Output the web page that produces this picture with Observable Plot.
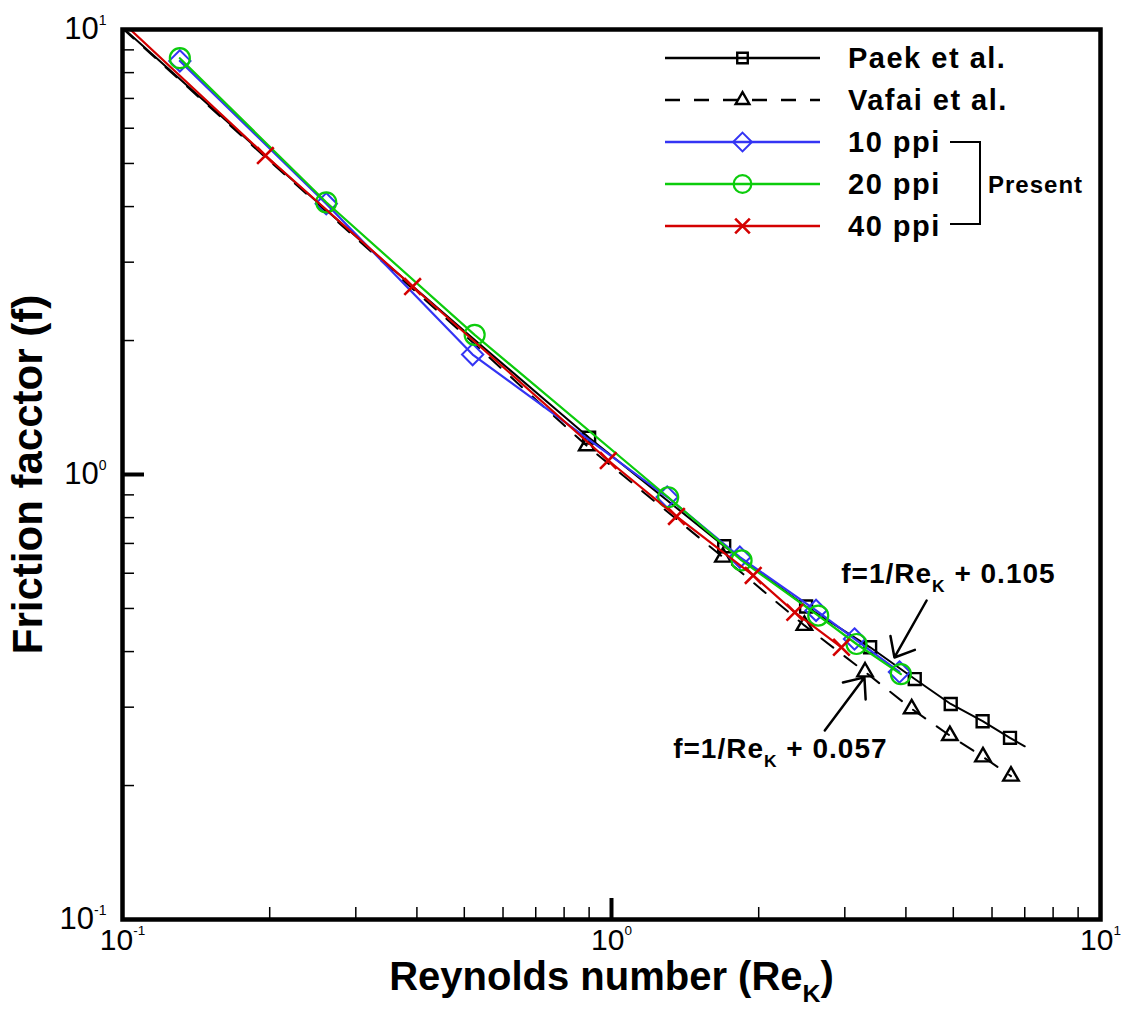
<!DOCTYPE html>
<html>
<head>
<meta charset="utf-8">
<script src="https://cdn.jsdelivr.net/npm/d3@7"></script>
<script src="https://cdn.jsdelivr.net/npm/@observablehq/plot@0.6"></script>
<style>
  html, body { margin: 0; padding: 0; background: #fff; }
  #chart { width: 1128px; height: 1012px; }
</style>
</head>
<body>
<div id="chart"></div>
<script>
// ---- data: Reynolds number Re_K vs friction factor f ----
const seriesNames = ["Paek et al.", "Vafai et al.", "10 ppi", "20 ppi", "40 ppi"];

// Paek et al. curve vertices; 1 = vertex carries a square marker
const paekRe     = [0.1, 0.2, 0.344, 0.5, 0.9, 1.7, 2.5, 3.38, 4.17, 4.94, 5.74, 6.53, 7.0];
const paekF      = [10.1, 5.1, 3.0, 2.1, 1.21, 0.69, 0.505, 0.409, 0.347, 0.305, 0.279, 0.256, 0.245];
const paekMarked = [0, 0, 0, 0, 1, 1, 1, 1, 1, 1, 1, 1, 0];

// Vafai et al. curve vertices; 1 = vertex carries a triangle marker
const vafaiRe     = [0.1, 0.2, 0.5, 0.89, 1.69, 2.48, 3.30, 4.11, 4.92, 5.75, 6.56];
const vafaiF      = [10.06, 5.06, 2.06, 1.16, 0.652, 0.458, 0.36, 0.2975, 0.259, 0.232, 0.21];
const vafaiMarked = [0, 0, 0, 1, 1, 1, 1, 1, 1, 1, 1];

// Present results
const ppi10Re = [0.131, 0.261, 0.520, 1.30, 1.83, 2.62, 3.14, 3.88];
const ppi10F  = [8.5, 4.06, 1.86, 0.89, 0.652, 0.495, 0.427, 0.36];
const ppi20Re = [0.131, 0.261, 0.525, 1.306, 1.845, 2.647, 3.17, 3.906];
const ppi20F  = [8.62, 4.09, 2.06, 0.889, 0.641, 0.482, 0.416, 0.356];
const ppi40Re = [0.098, 0.196, 0.392, 0.985, 1.358, 1.949, 2.371, 2.953];
const ppi40F  = [10.6, 5.21, 2.645, 1.075, 0.805, 0.593, 0.490, 0.409];

// correlation annotations: label anchor and arrow (from -> to)
const noteText   = ["f=1/Re_{K} + 0.105", "f=1/Re_{K} + 0.057"];
const noteRe     = [2.95, 1.337];
const noteF      = [0.596, 0.241];
const arrowFromRe = [4.41, 2.73];
const arrowFromF  = [0.521, 0.266];
const arrowToRe   = [3.79, 3.29];
const arrowToF    = [0.388, 0.350];

// axis ticks
const decadeTicks = [0.1, 1, 10];
const minorTicks = [0.2, 0.3, 0.4, 0.5, 0.6, 0.7, 0.8, 0.9, 2, 3, 4, 5, 6, 7, 8, 9];
const majorInner = [1];
const xTitle = "Reynolds number (Re_{K})";
const yTitle = "Friction facctor (f)";
const groupLabel = "Present";

// ---- styles ----
const styles = {
  "Paek et al.":  {color: "#000000", width: 2,   dash: null,    symbol: "square2",   r: 7.6, sw: 2.4},
  "Vafai et al.": {color: "#000000", width: 2,   dash: "15,14", symbol: "triangle2", r: 7.4, sw: 2.4},
  "10 ppi":       {color: "#3434f4", width: 2.2, dash: null,    symbol: "diamond2",  r: 9.6, sw: 2},
  "20 ppi":       {color: "#0ccc0c", width: 2.2, dash: null,    symbol: "circle",    r: 10,  sw: 2.2},
  "40 ppi":       {color: "#d40000", width: 2.2, dash: null,    symbol: "times",     r: 7.6, sw: 2.6}
};

const rows = (name, re, f, marked) => re.map((x, i) => ({name, re: x, f: f[i], marked: marked ? marked[i] : 1}));
const series = [
  rows(seriesNames[0], paekRe, paekF, paekMarked),
  rows(seriesNames[1], vafaiRe, vafaiF, vafaiMarked),
  rows(seriesNames[2], ppi10Re, ppi10F),
  rows(seriesNames[3], ppi20Re, ppi20F),
  rows(seriesNames[4], ppi40Re, ppi40F)
];
const notes = noteText.map((t, i) => ({t, re: noteRe[i], f: noteF[i],
  re1: arrowFromRe[i], f1: arrowFromF[i], re2: arrowToRe[i], f2: arrowToF[i]}));

const W = 1128, H = 1012;
const mL = 122, mR = 28, mT = 29, mB = 93;
const plotW = W - mL - mR, plotH = H - mT - mB;

const seriesMarks = series.flatMap(data => {
  const s = styles[data[0].name];
  return [
    Plot.line(data, {x: "re", y: "f", stroke: s.color, strokeWidth: s.width,
      strokeDasharray: s.dash ?? undefined, clip: true}),
    Plot.dot(data.filter(d => d.marked), {x: "re", y: "f", symbol: s.symbol, r: s.r,
      stroke: s.color, strokeWidth: s.sw, fill: "none", clip: true})
  ];
});

const fmtPow = d => "10^{" + Math.round(Math.log10(d)) + "}";

const plot = Plot.plot({
  width: W, height: H,
  marginLeft: mL, marginRight: mR, marginTop: mT, marginBottom: mB,
  style: {fontFamily: "'Liberation Sans', Arial, Helvetica, sans-serif", color: "#000", background: "#fff", overflow: "visible"},
  x: {type: "log", domain: [0.1, 10], axis: null},
  y: {type: "log", domain: [0.1, 10], axis: null},
  marks: [
    // inward minor and major ticks on bottom and left edges
    Plot.tickX(minorTicks, {x: d => d, insetTop: plotH - 12, strokeWidth: 1.5, stroke: "#000"}),
    Plot.tickX(majorInner, {x: d => d, insetTop: plotH - 21, strokeWidth: 4, stroke: "#000"}),
    Plot.tickY(minorTicks, {y: d => d, insetRight: plotW - 12, strokeWidth: 1.5, stroke: "#000"}),
    Plot.tickY(majorInner, {y: d => d, insetRight: plotW - 22, strokeWidth: 4, stroke: "#000"}),
    Plot.axisX({ticks: decadeTicks, tickSize: 0, tickPadding: 9, tickFormat: fmtPow, fontSize: 30, label: null}),
    Plot.axisY({ticks: decadeTicks, tickSize: 0, tickPadding: 16, tickFormat: fmtPow, fontSize: 31, label: null}),
    ...seriesMarks,
    Plot.arrow(notes, {x1: "re1", y1: "f1", x2: "re2", y2: "f2", stroke: "#000",
      strokeWidth: 2.5, headLength: 24, headAngle: 80}),
    Plot.text(notes, {x: "re", y: "f", text: "t", textAnchor: "start", fontSize: 28,
      fontWeight: "bold", fill: "#000"}),
    Plot.text([xTitle], {text: d => d, frameAnchor: "bottom", textAnchor: "middle", dy: 70,
      fontSize: 40, fontWeight: "bold", fill: "#000"}),
    Plot.text([yTitle], {text: d => d, frameAnchor: "left", textAnchor: "middle", dx: -94, rotate: -90,
      fontSize: 42, fontWeight: "bold", fill: "#000"}),
    Plot.frame({stroke: "#000", strokeWidth: 4.5})
  ]
});

document.getElementById("chart").append(plot);

// ---- rich text: ^{..} superscripts and _{..} subscripts ----
const SVGNS = "http://www.w3.org/2000/svg";
function richText(el) {
  const s = el.textContent;
  if (!/[\^_]\{/.test(s)) return;
  const F = parseFloat(getComputedStyle(el).fontSize);
  const parts = [];
  const re = /([\^_])\{([^}]*)\}/g;
  let last = 0, m;
  while ((m = re.exec(s))) {
    if (m.index > last) parts.push({t: s.slice(last, m.index), kind: null});
    parts.push({t: m[2], kind: m[1]});
    last = re.lastIndex;
  }
  if (last < s.length) parts.push({t: s.slice(last), kind: null});
  el.textContent = "";
  let shift = 0;
  for (const p of parts) {
    const ts = document.createElementNS(SVGNS, "tspan");
    const target = p.kind === "^" ? -0.48 * F : p.kind === "_" ? 0.3 * F : 0;
    if (target - shift) ts.setAttribute("dy", target - shift);
    shift = target;
    if (p.kind) ts.setAttribute("font-size", ((p.kind === "^" ? 0.45 : 0.62) * F).toFixed(1));
    if (p.kind === "^") ts.setAttribute("font-weight", "normal");
    ts.textContent = p.t;
    el.appendChild(ts);
  }
}
plot.querySelectorAll("text").forEach(richText);
// annotation letter spacing
plot.querySelectorAll("text").forEach(el => {
  if (el.textContent.startsWith("f=1/")) el.setAttribute("letter-spacing", "1");
});

// ---- legend (inside the frame, top right) ----
const svg = d3.select(plot.tagName.toLowerCase() === "svg" ? plot : plot.querySelector("svg"));
const lg = svg.append("g")
  .attr("font-family", "'Liberation Sans', Arial, Helvetica, sans-serif")
  .attr("text-anchor", "start");
const legX0 = 665, legX1 = 820, legTextX = 848, legY0 = 58, legStep = 42;
const symbolTypes = {square2: d3.symbolSquare2, triangle2: d3.symbolTriangle2, diamond2: d3.symbolDiamond2,
  circle: d3.symbolCircle, times: d3.symbolTimes};
seriesNames.forEach((name, i) => {
  const s = styles[name];
  const y = legY0 + i * legStep;
  lg.append("line").attr("x1", legX0).attr("x2", legX1).attr("y1", y).attr("y2", y)
    .attr("stroke", s.color).attr("stroke-width", s.width + 0.4)
    .attr("stroke-dasharray", s.dash ?? null);
  lg.append("path").attr("transform", `translate(${(legX0 + legX1) / 2},${y})`)
    .attr("d", d3.symbol(symbolTypes[s.symbol], Math.PI * s.r * s.r * 0.78)())
    .attr("fill", "none").attr("stroke", s.color).attr("stroke-width", s.sw);
  lg.append("text").attr("x", legTextX).attr("y", y).attr("dy", "0.36em")
    .attr("text-anchor", "start")
    .attr("font-size", 29).attr("font-weight", "bold").attr("letter-spacing", 1.5)
    .attr("fill", "#000").text(name);
});
// bracket grouping the present results
const bx0 = 950, bx1 = 980, by0 = legY0 + 2 * legStep, by1 = legY0 + 4 * legStep - 2;
lg.append("path").attr("d", `M${bx0},${by0}H${bx1}V${by1}H${bx0}`)
  .attr("fill", "none").attr("stroke", "#000").attr("stroke-width", 2);
lg.append("text").attr("x", bx1 + 8).attr("y", legY0 + 3 * legStep).attr("dy", "0.36em")
  .attr("text-anchor", "start")
  .attr("font-size", 24).attr("font-weight", "bold").attr("letter-spacing", 1)
  .attr("fill", "#000").text(groupLabel);
</script>
</body>
</html>
